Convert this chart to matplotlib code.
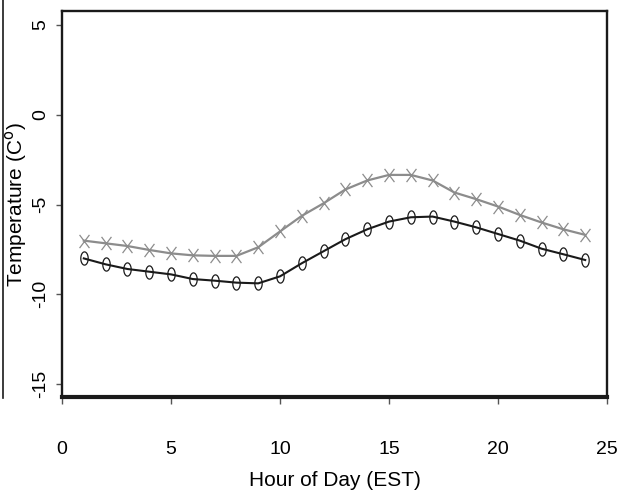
import matplotlib
matplotlib.use("Agg")
import matplotlib.pyplot as plt
from matplotlib.path import Path
from matplotlib.lines import Line2D
import numpy as np

hours = list(range(1, 25))
temp_low = [-8.0, -8.33, -8.59, -8.74, -8.89, -9.15, -9.24, -9.35, -9.39, -9.0,
            -8.27, -7.6, -6.93, -6.38, -5.95, -5.71, -5.67, -5.95, -6.27, -6.64,
            -7.01, -7.46, -7.77, -8.09]
temp_high = [-7.01, -7.16, -7.31, -7.53, -7.72, -7.83, -7.86, -7.86, -7.38, -6.5,
             -5.63, -4.93, -4.16, -3.66, -3.35, -3.35, -3.66, -4.33, -4.70, -5.11,
             -5.58, -6.0, -6.38, -6.69]
xticks = [0, 5, 10, 15, 20, 25]
yticks = [5, 0, -5, -10, -15]

plt.rcParams['font.family'] = ['Liberation Sans', 'DejaVu Sans']

# tall markers (the original picture is squeezed sideways)
t = np.linspace(0, 2 * np.pi, 60)
ellipse = Path(np.column_stack([0.56 * np.cos(t), np.sin(t)]))
cross = Path([(-0.75, -1), (0.75, 1), (-0.75, 1), (0.75, -1)],
             [Path.MOVETO, Path.LINETO, Path.MOVETO, Path.LINETO])

W, H = 618, 499
fig = plt.figure(figsize=(W / 100, H / 100), dpi=100)
ax = fig.add_axes([62 / W, 1 - 397 / H, 545 / W, 386 / H])

ax.plot(hours, temp_high, color='#8c8c8c', lw=1.6, marker=cross, ms=9.5,
        mew=0.9, mec='#8c8c8c', mfc='none')
ax.plot(hours, temp_low, color='#1a1a1a', lw=1.5, marker=ellipse, ms=9.5,
        mew=0.9, mec='#1a1a1a', mfc='none')

ax.set_xlim(0, 25)
ax.set_ylim(-15.72, 5.78)
for s in ax.spines.values():
    s.set_linewidth(1.7)
    s.set_color('#1a1a1a')
ax.spines['bottom'].set_linewidth(3.0)

ax.set_xticks(xticks)
ax.set_xticklabels([str(v) for v in xticks], fontsize=14)
ax.set_yticks(yticks)
ax.set_yticklabels([str(v) for v in yticks], fontsize=14, rotation=90, va='center')
ax.tick_params(axis='x', direction='out', length=5, width=1, color='#555555',
               pad=27)
ax.tick_params(axis='y', direction='out', length=4, width=1, color='#555555',
               pad=5)

ax.set_xlabel('Hour of Day (EST)', fontsize=15, labelpad=9)
fig.text(16 / W, 1 - 205 / H, 'Temperature (C$^\\mathrm{o}$)', fontsize=15,
         rotation=90, ha='center', va='center')

# cropped frame edge at far left
fig.add_artist(Line2D([2.5 / W, 2.5 / W], [1, 1 - 398 / H],
                      transform=fig.transFigure, color='#1a1a1a', lw=1.2))

fig.savefig('out.png', dpi=100)
